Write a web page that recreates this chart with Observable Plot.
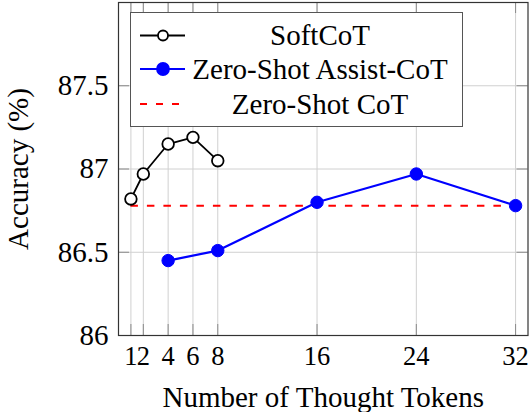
<!DOCTYPE html>
<html><head><meta charset="utf-8">
<script src="https://cdn.jsdelivr.net/npm/d3@7"></script>
<script src="https://cdn.jsdelivr.net/npm/@observablehq/plot@0.6"></script>
<style>
html,body{margin:0;padding:0;background:#fff;}
#wrap{position:relative;width:532px;height:412px;font-family:"Liberation Serif","Times New Roman",serif;}
#wrap svg{display:block;}
#legend{position:absolute;left:130px;top:12px;width:333px;height:115px;box-sizing:border-box;border:1.2px solid #555;background:#fff;}
</style></head><body><div id="wrap"></div>
<script>
const xTicks = [1, 2, 4, 6, 8, 16, 24, 32];
const yTicks = [86, 86.5, 87, 87.5];
const softX = [1, 2, 4, 6, 8];
const softY = [86.82, 86.97, 87.15, 87.19, 87.05];
const assistX = [4, 8, 16, 24, 32];
const assistY = [86.45, 86.51, 86.80, 86.97, 86.78];
const zeroShotX = [1, 32];
const zeroShotY = 86.78;
const seriesNames = ["SoftCoT", "Zero-Shot Assist-CoT", "Zero-Shot CoT"];
const xLabel = "Number of Thought Tokens";
const yLabel = "Accuracy (%)";
const xDomain = [0, 33], yDomain = [86, 88];

const W = 532, H = 412, mL = 118, mR = 4.5, mT = 2, mB = 77;
const FONT = '"Liberation Serif","Times New Roman",serif';
const FS = 29;
const FSX = 26.5;
const tickPx = 11;
const tx = tickPx / (W - mL - mR) * (xDomain[1] - xDomain[0]);
const ty = tickPx / (H - mT - mB) * (yDomain[1] - yDomain[0]);

const soft = softX.map((x, i) => ({x, y: softY[i]}));
const assist = assistX.map((x, i) => ({x, y: assistY[i]}));

const chart = Plot.plot({
  width: W, height: H, marginLeft: mL, marginRight: mR, marginTop: mT, marginBottom: mB,
  style: {fontFamily: FONT, fontSize: FS + "px", color: "#000", background: "transparent"},
  x: {domain: xDomain},
  y: {domain: yDomain},
  marks: [
    Plot.gridX(xTicks, {stroke: "#d0d0d0", strokeOpacity: 1}),
    Plot.gridY(yTicks, {stroke: "#d0d0d0", strokeOpacity: 1}),
    Plot.ruleX(xTicks, {x: d => d, y1: yDomain[0], y2: yDomain[0] + ty, stroke: "#8a8a8a"}),
    Plot.ruleX(xTicks, {x: d => d, y1: yDomain[1], y2: yDomain[1] - ty, stroke: "#8a8a8a"}),
    Plot.ruleY(yTicks, {y: d => d, x1: xDomain[0], x2: xDomain[0] + tx, stroke: "#8a8a8a"}),
    Plot.ruleY(yTicks, {y: d => d, x1: xDomain[1], x2: xDomain[1] - tx, stroke: "#8a8a8a"}),
    Plot.axisX(xTicks, {tickSize: 0, tickPadding: 11, fontSize: FSX, fontFamily: FONT, tickFormat: d => String(d),
      label: null}),
    Plot.axisX({ticks: [], tickSize: 0, fontSize: FS, fontFamily: FONT,
      label: xLabel, labelAnchor: "center", labelOffset: 71, labelArrow: "none"}),
    Plot.axisY(yTicks, {tickSize: 0, tickPadding: 10, fontSize: FS, fontFamily: FONT, tickFormat: d => String(d),
      label: yLabel, labelAnchor: "center", labelOffset: 111, labelArrow: "none"}),
    Plot.ruleY([zeroShotY], {x1: zeroShotX[0], x2: zeroShotX[1], stroke: "#ff0000", strokeWidth: 2, strokeDasharray: "7.5,9"}),
    Plot.line(soft, {x: "x", y: "y", stroke: "#000", strokeWidth: 1.8}),
    Plot.dot(soft, {x: "x", y: "y", r: 5.8, stroke: "#000", fill: "#fff", strokeWidth: 1.8}),
    Plot.line(assist, {x: "x", y: "y", stroke: "#0000ff", strokeWidth: 2.2}),
    Plot.dot(assist, {x: "x", y: "y", r: 6.2, stroke: "#0000ff", fill: "#0000ff", strokeWidth: 1}),
    Plot.frame({stroke: "#333", strokeWidth: 1.2})
  ]
});
const wrap = document.getElementById("wrap");
wrap.appendChild(chart);

// legend
const legend = document.createElement("div");
legend.id = "legend";
const ns = "http://www.w3.org/2000/svg";
const lsvg = document.createElementNS(ns, "svg");
lsvg.setAttribute("width", 331); lsvg.setAttribute("height", 113);
lsvg.style.position = "absolute"; lsvg.style.left = "0"; lsvg.style.top = "0";
const rows = [
  {stroke: "#000", dash: null, marker: "open", sw: 1.8},
  {stroke: "#0000ff", dash: null, marker: "filled", sw: 2.2},
  {stroke: "#ff0000", dash: "7,9", marker: null, sw: 2}
];
const rowY = [22.5, 56, 91];
rows.forEach((r, i) => {
  const y = rowY[i];
  const ln = document.createElementNS(ns, "line");
  ln.setAttribute("x1", 9); ln.setAttribute("x2", 54);
  ln.setAttribute("y1", y); ln.setAttribute("y2", y);
  ln.setAttribute("stroke", r.stroke); ln.setAttribute("stroke-width", r.sw);
  if (r.dash) ln.setAttribute("stroke-dasharray", r.dash);
  lsvg.appendChild(ln);
  if (r.marker) {
    const c = document.createElementNS(ns, "circle");
    c.setAttribute("cx", 32); c.setAttribute("cy", y);
    c.setAttribute("r", r.marker === "open" ? 5 : 6);
    c.setAttribute("fill", r.marker === "open" ? "#fff" : r.stroke);
    c.setAttribute("stroke", r.stroke); c.setAttribute("stroke-width", 1.8);
    lsvg.appendChild(c);
  }
  const t = document.createElementNS(ns, "text");
  t.setAttribute("x", 189); t.setAttribute("y", y + 9.8);
  t.setAttribute("text-anchor", "middle");
  t.setAttribute("font-family", FONT); t.setAttribute("font-size", FS);
  t.textContent = seriesNames[i];
  lsvg.appendChild(t);
});
legend.appendChild(lsvg);
wrap.appendChild(legend);
</script>
</body></html>
